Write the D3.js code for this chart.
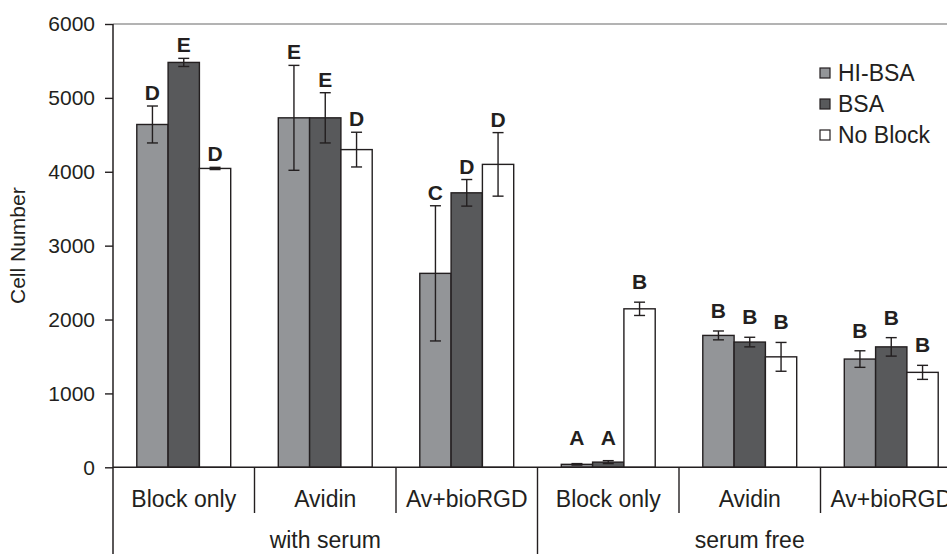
<!DOCTYPE html>
<html>
<head>
<meta charset="utf-8">
<script src="https://cdn.jsdelivr.net/npm/d3@7"></script>
<style>
  body { margin: 0; background: #fff; }
  svg text { font-family: "Liberation Sans", Arial, sans-serif; fill: #231f20; }
</style>
</head>
<body>
<div id="chart"></div>
<script>
// Data
const conditions = ["with serum", "serum free"];
const treatments = ["Block only", "Avidin", "Av+bioRGD"];
const series = ["HI-BSA", "BSA", "No Block"];
const colors = ["#939598", "#58595b", "#ffffff"];

// values per group (condition x treatment), one per series
const means = [
    [4640, 5480, 4045],
    [4730, 4730, 4300],
    [2625, 3715, 4100],
    [40, 70, 2145],
    [1785, 1695, 1495],
    [1465, 1630, 1285]
];
const errors = [
    [250, 55, 15],
    [710, 340, 235],
    [915, 180, 430],
    [10, 20, 90],
    [60, 65, 195],
    [112, 125, 95]
];
const letters = [
    ["D", "E", "D"],
    ["E", "E", "D"],
    ["C", "D", "D"],
    ["A", "A", "B"],
    ["B", "B", "B"],
    ["B", "B", "B"]
];
const yTicks = [0, 1000, 2000, 3000, 4000, 5000, 6000];

// Configuration
const width = 947;
const height = 554;
const x0 = 113, x1 = 962, yTop = 24, yBase = 467.3;
const ink = "#231f20";

const groups = [];
conditions.forEach(c => treatments.forEach(t => groups.push(c + "|" + t)));

const x = d3.scaleBand().domain(groups).range([x0, x1]).padding(0);
const xs = d3.scaleBand().domain(series).range([0, x.bandwidth()])
    .paddingInner(0).paddingOuter(0.76);
const y = d3.scaleLinear().domain([0, 6000]).range([yBase, yTop]);
const color = d3.scaleOrdinal().domain(series).range(colors);

const svg = d3.select("#chart").append("svg")
    .attr("width", width)
    .attr("height", height);

// top frame line
svg.append("line")
    .attr("x1", x0).attr("x2", width)
    .attr("y1", y(6000)).attr("y2", y(6000))
    .attr("stroke", "#9a9a9a").attr("stroke-width", 1.5);

// bars
const rows = [];
groups.forEach((g, gi) => series.forEach((s, si) => rows.push({
    g, gi, s, v: means[gi][si], e: errors[gi][si], l: letters[gi][si],
    cond: g.split("|")[0]
})));

const bar = svg.append("g").selectAll("g")
    .data(rows)
    .enter().append("g")
    .attr("transform", d => `translate(${x(d.g) + xs(d.s)},0)`);

bar.append("rect")
    .attr("x", 0)
    .attr("y", d => y(d.v))
    .attr("width", xs.bandwidth())
    .attr("height", d => y(0) - y(d.v))
    .attr("fill", d => color(d.s))
    .attr("stroke", ink)
    .attr("stroke-width", 1.4);

// error bars
const cx = xs.bandwidth() / 2;
bar.append("line")
    .attr("x1", cx).attr("x2", cx)
    .attr("y1", d => y(d.v + d.e)).attr("y2", d => y(Math.max(0, d.v - d.e)))
    .attr("stroke", ink).attr("stroke-width", 1.4);
bar.selectAll(".cap")
    .data(d => [d.v + d.e, Math.max(0, d.v - d.e)])
    .enter().append("line")
    .attr("x1", cx - 5.5).attr("x2", cx + 5.5)
    .attr("y1", d => y(d)).attr("y2", d => y(d))
    .attr("stroke", ink).attr("stroke-width", 1.4);

// significance letters
bar.append("text")
    .attr("x", cx)
    .attr("y", d => {
        const gap = d.cond === "with serum" ? 6 : 13;
        return Math.min(y(d.v + d.e) - gap, y(0) - 22);
    })
    .attr("text-anchor", "middle")
    .style("font-size", "21px")
    .style("font-weight", "bold")
    .text(d => d.l);

// y axis
const yAxis = svg.append("g")
    .attr("transform", `translate(${x0},0)`)
    .call(d3.axisLeft(y).tickValues(yTicks).tickSize(8).tickPadding(10).tickFormat(d3.format("d")));
yAxis.select(".domain").remove();
yAxis.selectAll("line").attr("stroke", ink).attr("stroke-width", 1.4);
yAxis.selectAll("text").style("font-size", "21px").attr("fill", ink);

svg.append("line")
    .attr("x1", x0).attr("x2", x0)
    .attr("y1", yTop).attr("y2", height)
    .attr("stroke", ink).attr("stroke-width", 1.5);

svg.append("text")
    .attr("transform", `translate(25,${(yTop + yBase) / 2}) rotate(-90)`)
    .attr("text-anchor", "middle")
    .style("font-size", "21px")
    .text("Cell Number");

// x axis baseline
svg.append("line")
    .attr("x1", x0).attr("x2", width)
    .attr("y1", y(0)).attr("y2", y(0))
    .attr("stroke", ink).attr("stroke-width", 1.5);

// category dividers
groups.forEach((g, gi) => {
    const xr = x(g) + x.bandwidth();
    const full = (gi + 1) % treatments.length === 0;
    svg.append("line")
        .attr("x1", xr).attr("x2", xr)
        .attr("y1", y(0)).attr("y2", full ? height : 513)
        .attr("stroke", ink).attr("stroke-width", 1.4);
});

// treatment labels
svg.append("g").selectAll("text")
    .data(groups)
    .enter().append("text")
    .attr("x", d => x(d) + x.bandwidth() / 2)
    .attr("y", 507)
    .attr("text-anchor", "middle")
    .style("font-size", "23px")
    .text(d => d.split("|")[1]);

// condition labels
svg.append("g").selectAll("text")
    .data(conditions)
    .enter().append("text")
    .attr("x", (d, i) => {
        const a = x(d + "|" + treatments[0]);
        const b = x(d + "|" + treatments[treatments.length - 1]) + x.bandwidth();
        return (a + b) / 2;
    })
    .attr("y", 548)
    .attr("text-anchor", "middle")
    .style("font-size", "23px")
    .text(d => d);

// legend
const legend = svg.selectAll(".legend")
    .data(series)
    .enter().append("g")
    .attr("class", "legend")
    .attr("transform", (d, i) => `translate(820,${68 + i * 31})`);

legend.append("rect")
    .attr("width", 10)
    .attr("height", 10)
    .attr("fill", color)
    .attr("stroke", ink)
    .attr("stroke-width", 1.2);

legend.append("text")
    .attr("x", 18)
    .attr("y", 12.5)
    .style("font-size", "23px")
    .text(d => d);
</script>
</body>
</html>
